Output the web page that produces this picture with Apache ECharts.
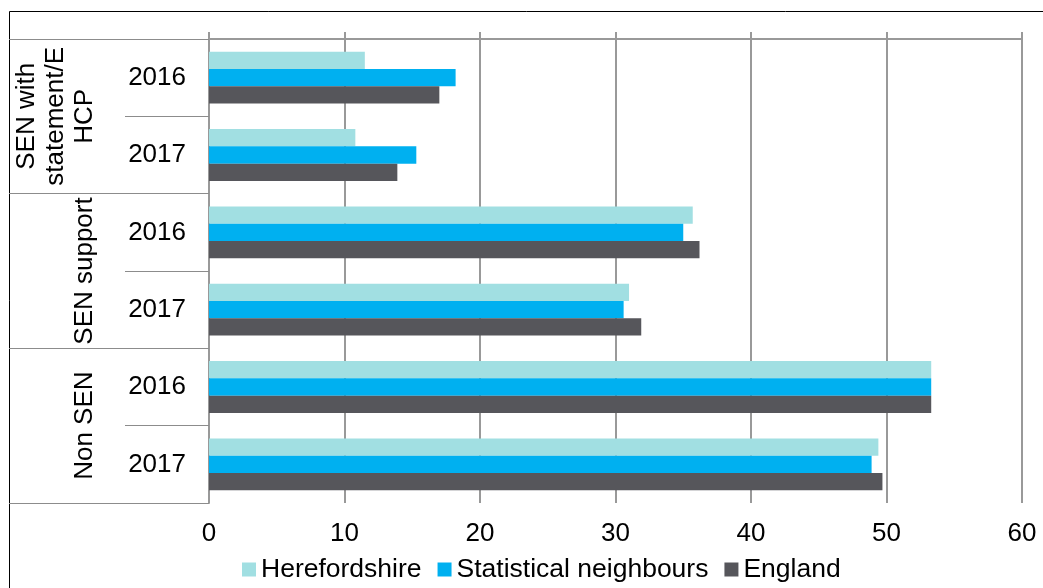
<!DOCTYPE html>
<html>
<head>
<meta charset="utf-8">
<script src="https://cdn.jsdelivr.net/npm/echarts@6/dist/echarts.min.js"></script>
<style>
  html, body { margin: 0; padding: 0; background: #fff; }
  #chart { width: 1043px; height: 588px; }
</style>
</head>
<body>
<div id="chart"></div>
<script>
// Pupil groups (outer level) and years (inner level), top to bottom
const groups = ['SEN with\nstatement/E\nHCP', 'SEN support', 'Non SEN'];
const years = ['2016', '2017'];

// Values per row, in the same top-to-bottom order as the rows
const herefordshire = [11.5, 10.8, 35.7, 31.0, 53.3, 49.4];
const statNeighbours = [18.2, 15.3, 35.0, 30.6, 53.3, 48.9];
const england = [17.0, 13.9, 36.2, 31.9, 53.3, 49.7];

const seriesNames = ['Herefordshire', 'Statistical neighbours', 'England'];
const xTicks = { min: 0, max: 60, interval: 10 };

// One inner row per (group, year); keys are unique, the label shows the year
const rowKeys = [];
groups.forEach((g, gi) => years.forEach(y => rowKeys.push(gi + '|' + y)));

const font = 'Liberation Sans, Arial, sans-serif';
const gridGray = '#999999';
const sepGray = '#8c8c8c';

const chart = echarts.init(document.getElementById('chart'), null, { renderer: 'canvas' });

const barCommon = {
  type: 'bar',
  xAxisIndex: 0,
  yAxisIndex: 0,
  barGap: '0%',
  barCategoryGap: '33%'
};

chart.setOption({
  animation: false,
  backgroundColor: '#fff',
  textStyle: { fontFamily: font, color: '#000' },
  grid: { left: 209, right: 21, top: 39, bottom: 85, containLabel: false },
  xAxis: [
    {
      type: 'value',
      position: 'top',
      min: xTicks.min, max: xTicks.max, interval: xTicks.interval,
      axisLine: { show: true, lineStyle: { color: gridGray, width: 2 } },
      axisTick: { show: true, length: 7, inside: false, lineStyle: { color: gridGray, width: 2 } },
      axisLabel: { show: false },
      splitLine: { show: true, lineStyle: { color: gridGray, width: 2 } }
    },
    {
      type: 'value',
      position: 'bottom',
      min: xTicks.min, max: xTicks.max, interval: xTicks.interval,
      axisLine: { show: false },
      axisTick: { show: false },
      splitLine: { show: false },
      axisLabel: { show: true, fontSize: 26, color: '#000', margin: 18, fontFamily: font }
    }
  ],
  yAxis: [
    {
      type: 'category',
      data: rowKeys,
      inverse: true,
      position: 'left',
      axisLine: { show: true, lineStyle: { color: gridGray, width: 2 } },
      axisTick: { show: true, interval: 0, length: 84, lineStyle: { color: sepGray, width: 1 } },
      axisLabel: {
        show: true, interval: 0, fontSize: 26, color: '#000', margin: 23, fontFamily: font,
        formatter: v => v.split('|')[1]
      },
      splitLine: { show: false }
    },
    {
      type: 'category',
      data: groups,
      inverse: true,
      position: 'left',
      axisLine: { show: false },
      axisTick: { show: true, interval: 0, length: 200, lineStyle: { color: sepGray, width: 1 } },
      axisLabel: {
        show: true, interval: 0, hideOverlap: false, rotate: 90, fontSize: 26, lineHeight: 29,
        color: '#000', margin: 110, fontFamily: font, align: 'center'
      },
      splitLine: { show: false }
    }
  ],
  legend: {
    data: seriesNames,
    left: 242,
    top: 556,
    padding: 0,
    icon: 'rect',
    itemWidth: 14,
    itemHeight: 14,
    itemGap: 16,
    textStyle: { fontSize: 26.5, color: '#000', fontFamily: font }
  },
  series: [
    Object.assign({ name: seriesNames[0], data: herefordshire, itemStyle: { color: '#a1dfe2' } }, barCommon),
    Object.assign({ name: seriesNames[1], data: statNeighbours, itemStyle: { color: '#00b0f0' } }, barCommon),
    Object.assign({ name: seriesNames[2], data: england, itemStyle: { color: '#56565b' } }, barCommon)
  ],
  graphic: [
    {
      // outer frame of the chart area
      type: 'rect',
      shape: { x: 9.5, y: 11.5, width: 1200, height: 1200 },
      style: { fill: 'none', stroke: '#000', lineWidth: 1 },
      silent: true
    }
  ]
});
</script>
</body>
</html>
